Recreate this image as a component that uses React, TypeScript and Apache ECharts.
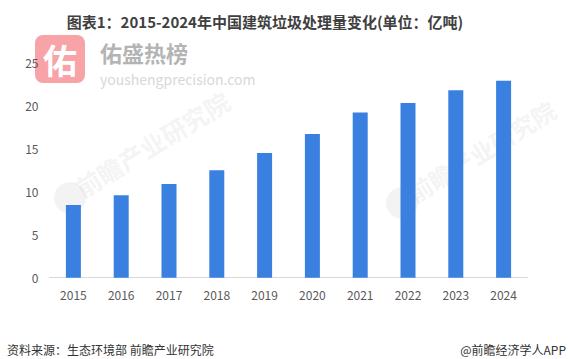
import React, { useEffect, useRef } from "react";
import * as echarts from "echarts";

const title = "图表1：2015-2024年中国建筑垃圾处理量变化(单位：亿吨)";
const years = ["2015", "2016", "2017", "2018", "2019", "2020", "2021", "2022", "2023", "2024"];
const values = [8.45, 9.6, 10.9, 12.5, 14.5, 16.7, 19.2, 20.3, 21.8, 22.9];
const yTicks = { min: 0, max: 25, interval: 5 };
const source = "资料来源：生态环境部 前瞻产业研究院";
const credit = "@前瞻经济学人APP";
const watermark = "前瞻产业研究院";

export default function App() {
  const ref = useRef<HTMLDivElement>(null);
  useEffect(() => {
    if (!ref.current) return;
    const chart = echarts.init(ref.current, null, { renderer: "svg" });
    const font = "'Microsoft YaHei', 'Noto Sans CJK SC', sans-serif";
    const ang = (31.5 * Math.PI) / 180;
    const wmFill = "rgba(190,190,190,0.18)";
    chart.setOption({
      animation: false,
      backgroundColor: "#ffffff",
      textStyle: { fontFamily: font },
      title: {
        text: title,
        left: 260,
        textAlign: "center",
        top: 9,
        textStyle: { fontSize: 15, fontWeight: "bold", color: "#3f3f3f", fontFamily: font },
      },
      grid: { left: 49.5, right: 40.5, top: 62.7, bottom: 81.3, containLabel: false },
      xAxis: {
        type: "category",
        data: years,
        axisLine: { lineStyle: { color: "#d9d9d9", width: 1 } },
        axisTick: { show: false },
        axisLabel: { color: "#595959", fontSize: 12, margin: 11, fontFamily: font },
      },
      yAxis: {
        type: "value",
        min: yTicks.min,
        max: yTicks.max,
        interval: yTicks.interval,
        splitLine: { show: false },
        axisLine: { show: false },
        axisTick: { show: false },
        axisLabel: { color: "#595959", fontSize: 12, margin: 11, fontFamily: font },
      },
      series: [
        {
          type: "bar",
          data: values,
          barWidth: 15,
          itemStyle: { color: "#3a80e0" },
        },
      ],
      graphic: [
        { type: "circle", shape: { cx: 70, cy: 198, r: 16 }, style: { fill: wmFill }, silent: true, z: -1 },
        {
          type: "text",
          x: 84, y: 200, rotation: ang,
          style: { text: watermark, fontSize: 25, fill: wmFill, fontFamily: font, fontWeight: "bold", verticalAlign: "bottom" },
          silent: true,
        },
        { type: "circle", shape: { cx: 402, cy: 203, r: 16 }, style: { fill: wmFill }, silent: true, z: -1 },
        {
          type: "text",
          x: 416, y: 205, rotation: ang,
          style: { text: watermark, fontSize: 24, fill: wmFill, fontFamily: font, fontWeight: "bold", verticalAlign: "bottom" },
          silent: true,
        },
        // logo block
        {
          type: "rect",
          shape: { x: 35, y: 35, width: 50, height: 48, r: 8 },
          style: { fill: "#f7a3a8" },
          silent: true,
        },
        {
          type: "text",
          x: 60, y: 59,
          style: { text: "佑", fontSize: 34, fontWeight: "bold", fill: "#ffffff", align: "center", verticalAlign: "middle", fontFamily: font },
          silent: true,
        },
        {
          type: "text",
          x: 100, y: 52,
          style: { text: "佑盛热榜", fontSize: 22, fontWeight: "bold", fill: "#b4b4b4", verticalAlign: "middle", fontFamily: font },
          silent: true,
        },
        {
          type: "text",
          x: 100, y: 79,
          style: { text: "youshengprecision.com", fontSize: 14, fill: "#d8d8d8", verticalAlign: "middle", fontFamily: font },
          silent: true,
        },
        {
          type: "text",
          x: 7, y: 349,
          style: { text: source, fontSize: 12, fill: "#333333", verticalAlign: "middle", fontFamily: font },
        },
        {
          type: "text",
          x: 566, y: 349,
          style: { text: credit, fontSize: 12, fill: "#333333", align: "right", verticalAlign: "middle", fontFamily: font },
        },
      ],
    });
    return () => chart.dispose();
  }, []);
  return <div ref={ref} style={{ width: 568, height: 359, position: "absolute", left: 0, top: 0 }} />;
}
